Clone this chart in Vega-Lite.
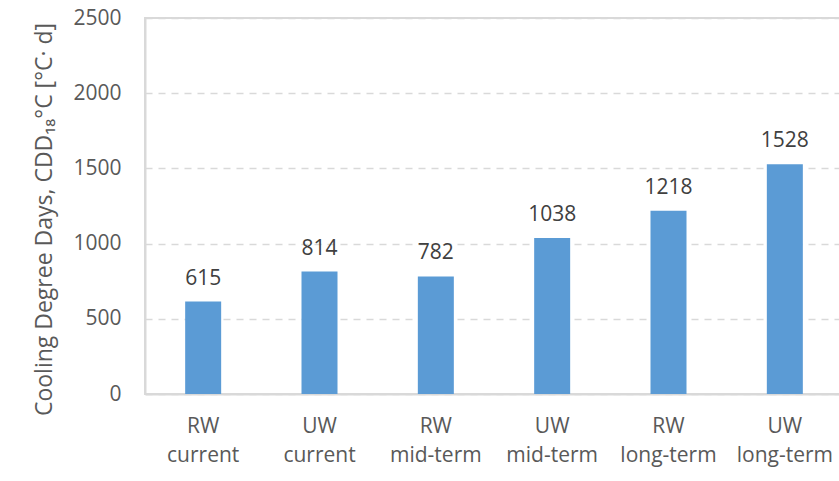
{
  "$schema": "https://vega.github.io/schema/vega-lite/v6.json",
  "width": 698,
  "height": 376,
  "autosize": {"type": "none"},
  "padding": {"left": 145, "top": 18, "right": 0, "bottom": 87},
  "background": "white",
  "config": {
    "font": "Open Sans",
    "view": {"stroke": "#d9d9d9", "strokeWidth": 2}
  },
  "data": {
    "values": [
      {"case": "RW current", "cdd": 615},
      {"case": "UW current", "cdd": 814},
      {"case": "RW mid-term", "cdd": 782},
      {"case": "UW mid-term", "cdd": 1038},
      {"case": "RW long-term", "cdd": 1218},
      {"case": "UW long-term", "cdd": 1528}
    ]
  },
  "encoding": {
    "x": {
      "field": "case",
      "type": "nominal",
      "sort": null,
      "scale": {"paddingInner": 0, "paddingOuter": 0},
      "axis": {
        "title": null,
        "labelAngle": 0,
        "labelExpr": "split(datum.value, ' ')",
        "labelFont": "Open Sans",
        "labelFontSize": 21,
        "labelColor": "#595959",
        "labelLineHeight": 29,
        "labelBaseline": "alphabetic",
        "labelPadding": 38,
        "ticks": false,
        "tickSize": 0,
        "domainColor": "#d9d9d9",
        "domainWidth": 2,
        "grid": false
      }
    },
    "y": {
      "field": "cdd",
      "type": "quantitative",
      "scale": {"domain": [0, 2500], "nice": false},
      "axis": {
        "values": [0, 500, 1000, 1500, 2000, 2500],
        "format": "d",
        "title": "Cooling Degree Days, CDD₁₈°C [°C· d]",
        "titleFont": "Open Sans",
        "titleFontSize": 23,
        "titleFontWeight": "normal",
        "titleColor": "#595959",
        "titleAngle": -90,
        "titleX": -101,
        "titleY": 201,
        "titleAlign": "center",
        "titleBaseline": "middle",
        "titleLimit": 500,
        "labelFont": "Open Sans",
        "labelFontSize": 21,
        "labelColor": "#595959",
        "labelPadding": 24,
        "ticks": false,
        "tickSize": 0,
        "domainColor": "#d9d9d9",
        "domainWidth": 2,
        "gridColor": "#d9d9d9",
        "gridWidth": 1.5,
        "gridDash": [7, 6]
      }
    }
  },
  "layer": [
    {
      "mark": {"type": "bar", "width": 36, "color": "#5B9BD5"}
    },
    {
      "mark": {
        "type": "text",
        "baseline": "alphabetic",
        "dy": -17,
        "fontSize": 21,
        "font": "Open Sans",
        "color": "#404040"
      },
      "encoding": {
        "text": {"field": "cdd", "type": "quantitative"}
      }
    }
  ]
}
